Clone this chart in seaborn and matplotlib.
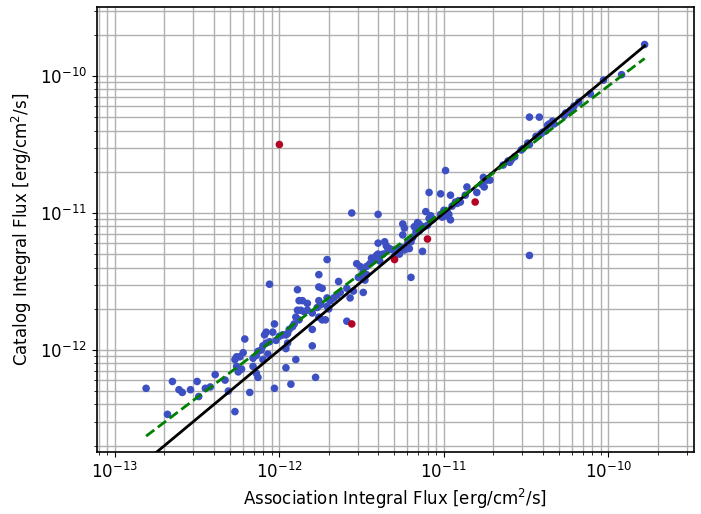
import numpy as np
import pandas as pd
import matplotlib
matplotlib.use("Agg")
import matplotlib.pyplot as plt
import matplotlib.ticker as mticker
import seaborn as sns

# log10 of integral flux [erg/cm^2/s]
assoc_log = [
    -12.81, -12.68, -12.65, -12.61, -12.59, -12.54, -12.50, -12.49, -12.45, -12.42,
    -12.39, -12.33, -12.31, -12.27, -12.27, -12.24, -12.22, -12.21, -12.26, -12.25,
    -12.23, -12.18, -12.16, -12.14, -12.13, -12.11, -12.10, -12.09, -12.08, -12.10,
    -12.07, -12.03, -12.04, -12.02, -12.03, -12.00, -11.96, -11.96, -11.96, -12.06,
    -11.93, -12.16, -12.14, -12.13, -12.26, -12.06, -12.08, -11.98, -11.95, -11.95,
    -11.94, -11.92, -11.91, -11.90, -11.88, -11.89, -11.87, -11.85, -11.83, -11.80,
    -11.89, -11.88, -11.86, -11.83, -11.90, -11.80, -11.80, -11.78, -11.76, -11.77,
    -11.75, -11.76, -11.74, -11.72, -11.76, -11.76, -11.74, -11.71, -11.70, -11.71,
    -11.71, -11.69, -11.67, -11.65, -11.63, -11.64, -11.59, -11.57, -11.59, -11.55,
    -11.49, -11.53, -11.52, -11.50, -11.49, -11.47, -11.48, -11.51, -11.49, -11.47,
    -11.45, -11.43, -11.41, -11.40, -11.44, -11.40, -11.36, -11.35, -11.33, -11.31,
    -11.34, -11.37, -11.30, -11.28, -11.27, -11.26, -11.39, -11.56, -11.40, -11.25,
    -11.24, -11.25, -11.23, -11.22, -11.20, -11.19, -11.21, -11.24, -11.20, -11.13,
    -11.16, -11.15, -11.18, -11.14, -11.17, -11.15, -11.11, -11.09, -11.07, -11.10,
    -11.12, -11.08, -11.09, -11.02, -10.99, -11.00, -10.98, -10.99, -10.97, -10.96,
    -11.02, -11.01, -10.96, -10.93, -10.91, -10.92, -10.95, -10.90, -10.87, -10.86,
    -10.80, -10.77, -10.76, -10.74, -10.72, -10.755, -10.64, -10.61, -10.60, -10.59,
    -10.57, -10.53, -10.52, -10.49, -10.48, -10.44, -10.41, -10.40, -10.38, -10.37,
    -10.36, -10.34, -10.33, -10.48, -10.42, -10.27, -10.26, -10.23, -10.21, -10.18,
    -10.11, -10.03, -9.92, -9.78, -10.48,
]
catalog_log = [
    -12.28, -12.47, -12.23, -12.29, -12.31, -12.29, -12.23, -12.34, -12.28, -12.27,
    -12.18, -12.22, -12.30, -12.45, -12.07, -12.05, -12.02, -11.92, -12.12, -12.16,
    -12.14, -12.31, -12.12, -12.17, -12.20, -12.00, -11.97, -11.89, -11.87, -12.07,
    -12.03, -11.81, -11.87, -11.93, -12.28, -11.90, -11.89, -12.13, -11.99, -11.52,
    -12.25, -12.06, -12.04, -12.01, -12.05, -11.94, -11.95, -11.89, -11.88, -11.95,
    -11.85, -11.83, -11.81, -11.76, -11.78, -11.71, -11.71, -11.72, -11.71, -11.73,
    -11.56, -11.64, -11.64, -11.66, -12.07, -11.97, -11.85, -12.20, -11.64, -11.69,
    -11.67, -11.76, -11.78, -11.78, -11.45, -11.54, -11.55, -11.68, -11.70, -11.34,
    -11.62, -11.64, -11.62, -11.60, -11.58, -11.50, -11.55, -11.62, -11.79, -11.57,
    -11.58, -11.37, -11.47, -11.47, -11.44, -11.45, -11.49, -11.39, -11.43, -11.39,
    -11.37, -11.35, -11.31, -11.30, -11.33, -11.22, -11.21, -11.24, -11.26, -11.27,
    -11.27, -11.30, -11.32, -11.27, -11.30, -11.25, -11.35, -11.00, -11.01, -11.08,
    -11.11, -11.16, -11.25, -11.22, -11.21, -11.18, -11.26, -11.27, -11.47, -11.28,
    -11.07, -11.08, -11.10, -11.11, -11.14, -11.13, -10.99, -11.04, -11.05, -11.09,
    -11.10, -11.02, -10.85, -10.86, -10.69, -10.98, -10.99, -11.02, -11.01, -11.05,
    -11.01, -11.03, -10.87, -10.92, -10.91, -10.93, -10.95, -10.92, -10.87, -10.81,
    -10.85, -10.79, -10.74, -10.76, -10.76, -10.81, -10.65, -10.62, -10.63, -10.61,
    -10.59, -10.54, -10.53, -10.49, -10.50, -10.44, -10.42, -10.41, -10.40, -10.36,
    -10.35, -10.33, -10.35, -10.30, -10.30, -10.29, -10.27, -10.25, -10.22, -10.19,
    -10.13, -10.03, -9.99, -9.77, -11.31,
]

# flagged sources (red)
flag_assoc_log = [-12.00, -11.56, -11.30, -11.10, -10.81]
flag_catalog_log = [-10.50, -11.81, -11.34, -11.19, -10.92]

# power-law fit: y = 10**fit_logA * x**fit_slope
fit_slope = 0.91
fit_logA = -0.972

x_decades = [1e-13, 1e-12, 1e-11, 1e-10]
y_decades = [1e-12, 1e-11, 1e-10]

df = pd.DataFrame({
    "assoc": 10.0 ** np.array(assoc_log + flag_assoc_log),
    "catalog": 10.0 ** np.array(catalog_log + flag_catalog_log),
    "group": ["ok"] * len(assoc_log) + ["flag"] * len(flag_assoc_log),
})

xr = np.array([df["assoc"].min(), df["assoc"].max()])
lines = pd.DataFrame({"x": xr, "one": xr, "fit": 10.0 ** fit_logA * xr ** fit_slope})

plt.rcParams["font.size"] = 12
fig = plt.figure(figsize=(7.01, 5.14), dpi=100)
ax = fig.add_axes([0.138, 0.1206, 0.852, 0.8658])

sns.scatterplot(data=df, x="assoc", y="catalog", hue="group",
                palette={"ok": "#3d50c3", "flag": "#b40426"},
                s=30, linewidth=0, legend=False, ax=ax, zorder=3)
sns.lineplot(data=lines, x="x", y="one", color="black", lw=2, ax=ax, zorder=4)
sns.lineplot(data=lines, x="x", y="fit", color="green", lw=2, ls="--", ax=ax, zorder=4)

ax.set_xscale("log")
ax.set_yscale("log")
ax.set_xticks(x_decades)
ax.set_yticks(y_decades)
ax.xaxis.set_minor_formatter(mticker.NullFormatter())
ax.yaxis.set_minor_formatter(mticker.NullFormatter())
ax.set_xlim(10 ** -13.11, 10 ** -9.48)
ax.set_ylim(10 ** -12.745, 10 ** -9.496)
ax.grid(True, which="both", color="#b0b0b0", lw=1)
ax.set_axisbelow(True)
for sp in ax.spines.values():
    sp.set_linewidth(1.2)
ax.set_xlabel("Association Integral Flux [erg/cm$^2$/s]")
ax.set_ylabel("Catalog Integral Flux [erg/cm$^2$/s]")

fig.savefig("out.png", dpi=100)
